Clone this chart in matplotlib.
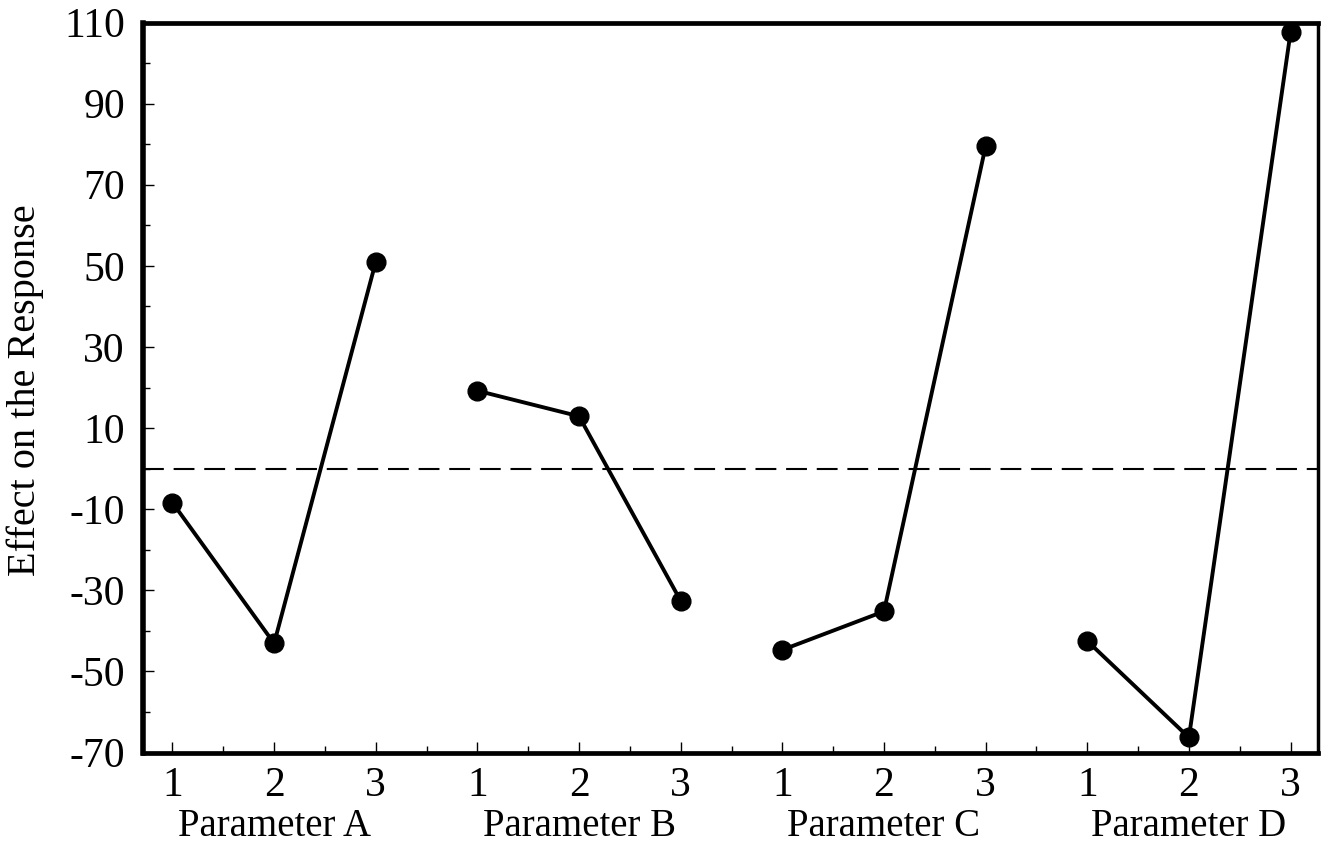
import matplotlib
matplotlib.use("Agg")
import matplotlib.pyplot as plt
import matplotlib.transforms as mtransforms
from matplotlib.ticker import FixedLocator, MultipleLocator

# ---- data ----
parameters = ["Parameter A", "Parameter B", "Parameter C", "Parameter D"]
levels = ["1", "2", "3"]
effect_A = [-8.4, -43.1, 51.0]
effect_B = [19.2, 12.9, -32.6]
effect_C = [-44.7, -35.2, 79.5]
effect_D = [-42.5, -66.3, 107.6]
series = [effect_A, effect_B, effect_C, effect_D]
y_ticks = [-70, -50, -30, -10, 10, 30, 50, 70, 90, 110]

plt.rcParams['font.family'] = ['Liberation Serif', 'DejaVu Serif']
plt.rcParams['axes.unicode_minus'] = False

W, H = 1321, 855
fig = plt.figure(figsize=(W / 100, H / 100), dpi=100)
left, right, top, bottom = 143, 1318, 22.5, 752.5
ax = fig.add_axes([left / W, 1 - bottom / H, (right - left) / W, (bottom - top) / H])

positions = []
for gi, vals in enumerate(series):
    xs = [gi * 3 + k + 1 for k in range(len(vals))]
    positions.extend(xs)
    ax.plot(xs, vals, color='black', lw=2.8, marker='o', ms=13.5,
            markerfacecolor='black', markeredgecolor='black', zorder=3)

ax.axhline(0, color='black', lw=1.5, linestyle=(0, (10, 4.7)), zorder=2)

ax.set_xlim(0.71, 12.27)
ax.set_ylim(-70, 110)

ax.xaxis.set_major_locator(FixedLocator(positions))
ax.set_xticklabels(levels * len(parameters))
ax.xaxis.set_minor_locator(FixedLocator([p + 0.5 for p in positions[:-1]]))

ax.yaxis.set_major_locator(FixedLocator(y_ticks))
ax.yaxis.set_minor_locator(MultipleLocator(10))

ax.tick_params(axis='both', which='major', direction='in', length=8, width=1.0,
               labelsize=30, color='black')
ax.tick_params(axis='both', which='minor', direction='in', length=5, width=1.0)
ax.tick_params(axis='y', which='major', pad=13)
ax.tick_params(axis='x', which='major', pad=10)
ax.tick_params(top=False, right=False, which='both')

for side, lw in [('left', 4.0), ('bottom', 3.4), ('top', 3.4), ('right', 2.5)]:
    ax.spines[side].set_linewidth(lw)
    ax.spines[side].set_color('black')

# group labels
trans = mtransforms.blended_transform_factory(ax.transData, ax.transAxes)
for gi, name in enumerate(parameters):
    ax.text(gi * 3 + 2, -0.1007, name, transform=trans, ha='center', va='center',
            fontsize=28)

fig.text(25 / W, 1 - 390 / H, "Effect on the Response", rotation=90,
         ha='center', va='center', fontsize=29)

fig.savefig("out.png", dpi=100, facecolor='white')
